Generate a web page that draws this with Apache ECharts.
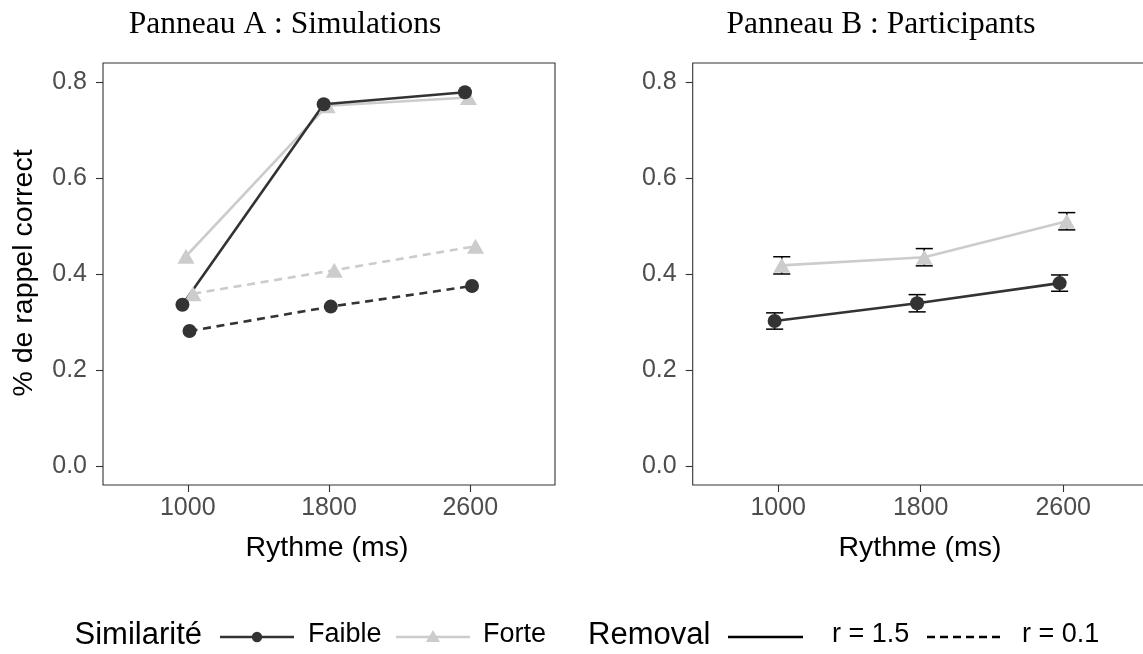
<!DOCTYPE html>
<html>
<head>
<meta charset="utf-8">
<script src="https://cdn.jsdelivr.net/npm/echarts@6/dist/echarts.min.js"></script>
<style>
  html, body { margin: 0; padding: 0; background: #ffffff; }
  #chart { width: 1143px; height: 654px; }
</style>
</head>
<body>
<div id="chart"></div>
<script>
// Rhythm conditions (ms) and y tick values
const rythmes = [1000, 1800, 2600];
const yTicks = [0, 0.2, 0.4, 0.6, 0.8];

// Panel A: simulated recall, by similarity and removal rate
const simFaibleR15 = [0.336, 0.754, 0.779];
const simForteR15  = [0.437, 0.751, 0.768];
const simFaibleR01 = [0.281, 0.332, 0.375];
const simForteR01  = [0.359, 0.408, 0.458];

// Panel B: participants' recall with standard errors
const partFaible   = [0.302, 0.339, 0.381];
const partForte    = [0.418, 0.435, 0.510];
const partFaibleSE = [0.017, 0.018, 0.017];
const partForteSE  = [0.018, 0.018, 0.018];

const DARK = '#333333';
const LIGHT = '#CCCCCC';
const SANS = '"Liberation Sans", Arial, Helvetica, sans-serif';
const SERIF = '"Liberation Serif", "Times New Roman", serif';

// category spacing in ms; discrete-scale padding of 0.6 category on each side
const STEP = 800;
const X_MIN = rythmes[0] - 0.6 * STEP;
const X_MAX = rythmes[rythmes.length - 1] + 0.6 * STEP;

// position_dodge(width = 0.1): offset of group i among n groups
function dodge(i, n) {
  const w = 0.1;
  return (-w / 2 + (w / n) * (i + 0.5)) * STEP;
}
function pairs(values, i, n) {
  return values.map((v, k) => [rythmes[k] + dodge(i, n), v]);
}
function errPairs(values, se, i, n) {
  return values.map((v, k) => [rythmes[k] + dodge(i, n), v - se[k], v + se[k]]);
}

const chart = echarts.init(document.getElementById('chart'), null, { renderer: 'canvas' });

const grids = [
  { left: 103, top: 63, width: 452, height: 422 },
  { left: 692.7, top: 63, width: 456, height: 422 }
].map(g => Object.assign({
  show: true, borderColor: DARK, borderWidth: 1.1,
  backgroundColor: 'transparent', containLabel: false, outerBoundsMode: 'none'
}, g));

function xAxis(gi) {
  return {
    type: 'value', gridIndex: gi, min: X_MIN, max: X_MAX,
    axisLine: { show: false, onZero: false },
    splitLine: { show: false },
    axisTick: { show: true, inside: false, customValues: rythmes, length: 7, lineStyle: { color: DARK, width: 1.1 } },
    axisLabel: {
      customValues: rythmes, margin: 11, fontSize: 25, color: '#4D4D4D', fontFamily: SANS,
      formatter: v => String(Math.round(v))
    }
  };
}
function yAxis(gi) {
  return {
    type: 'value', gridIndex: gi, min: -0.04, max: 0.84,
    axisLine: { show: false, onZero: false },
    splitLine: { show: false },
    axisTick: { show: true, inside: false, customValues: yTicks, length: 7, lineStyle: { color: DARK, width: 1.1 } },
    axisLabel: {
      customValues: yTicks, margin: 16, fontSize: 25, color: '#4D4D4D', fontFamily: SANS,
      formatter: v => v.toFixed(1)
    }
  };
}

function lineSeries(gi, data, color, dashed) {
  return {
    type: 'line', xAxisIndex: gi, yAxisIndex: gi, data, symbol: 'none', silent: true,
    animation: false,
    lineStyle: { color, width: 2.6, type: dashed ? [8, 5.7] : 'solid', cap: 'butt' },
    z: 2
  };
}
function pointSeries(gi, data, color, shape, z) {
  return {
    type: 'scatter', xAxisIndex: gi, yAxisIndex: gi, data, animation: false, silent: true,
    symbol: shape, symbolSize: shape === 'triangle' ? [17, 15] : 14,
    itemStyle: { color, opacity: 1 }, z
  };
}

const capHalf = 0.06 * STEP;
function errorSeries(gi, data) {
  return {
    type: 'custom', xAxisIndex: gi, yAxisIndex: gi, data, animation: false, silent: true, z: 1,
    renderItem(params, api) {
      const x = api.value(0);
      const lo = api.coord([x, api.value(1)]);
      const hi = api.coord([x, api.value(2)]);
      const half = api.coord([x + capHalf, api.value(1)])[0] - lo[0];
      const style = { stroke: '#000000', lineWidth: 1.5, fill: null };
      return {
        type: 'group',
        children: [
          { type: 'line', shape: { x1: lo[0], y1: lo[1], x2: hi[0], y2: hi[1] }, style },
          { type: 'line', shape: { x1: lo[0] - half, y1: lo[1], x2: lo[0] + half, y2: lo[1] }, style },
          { type: 'line', shape: { x1: hi[0] - half, y1: hi[1], x2: hi[0] + half, y2: hi[1] }, style }
        ]
      };
    }
  };
}

const series = [
  // Panel A
  lineSeries(0, pairs(simForteR15, 1, 4), LIGHT, false),
  lineSeries(0, pairs(simForteR01, 3, 4), LIGHT, true),
  lineSeries(0, pairs(simFaibleR15, 0, 4), DARK, false),
  lineSeries(0, pairs(simFaibleR01, 2, 4), DARK, true),
  pointSeries(0, pairs(simForteR15, 1, 4), LIGHT, 'triangle', 3),
  pointSeries(0, pairs(simForteR01, 3, 4), LIGHT, 'triangle', 3),
  pointSeries(0, pairs(simFaibleR15, 0, 4), DARK, 'circle', 4),
  pointSeries(0, pairs(simFaibleR01, 2, 4), DARK, 'circle', 4),
  // Panel B
  errorSeries(1, errPairs(partFaible, partFaibleSE, 0, 2)),
  errorSeries(1, errPairs(partForte, partForteSE, 1, 2)),
  lineSeries(1, pairs(partForte, 1, 2), LIGHT, false),
  lineSeries(1, pairs(partFaible, 0, 2), DARK, false),
  pointSeries(1, pairs(partForte, 1, 2), LIGHT, 'triangle', 3),
  pointSeries(1, pairs(partFaible, 0, 2), DARK, 'circle', 4)
];

// Titles, axis titles and legend drawn as graphic elements
function text(x, y, str, size, opts) {
  return Object.assign({
    type: 'text', x, y, silent: true,
    style: Object.assign({
      text: str, fontSize: size, fontFamily: SANS, fill: '#000000',
      align: 'left', verticalAlign: 'middle'
    }, opts && opts.style)
  }, opts && opts.el);
}
function keyLine(x1, x2, y, color, dashed) {
  return {
    type: 'line', silent: true,
    shape: { x1, y1: y, x2, y2: y },
    style: { stroke: color, lineWidth: 2.6, lineDash: dashed ? [8, 5] : null, lineCap: 'butt' }
  };
}

const LEG_Y = 637;
const graphic = [
  text(285, 25, 'Panneau A : Simulations', 31.5, { style: { fontFamily: SERIF, align: 'center' } }),
  text(881, 25, 'Panneau B : Participants', 31.5, { style: { fontFamily: SERIF, align: 'center' } }),
  text(24, 273, '% de rappel correct', 28.5, { style: { align: 'center' }, el: { rotation: Math.PI / 2 } }),
  text(327, 548, 'Rythme (ms)', 28.5, { style: { align: 'center' } }),
  text(920, 548, 'Rythme (ms)', 28.5, { style: { align: 'center' } }),

  text(202, LEG_Y - 2, 'Similarité', 31, { style: { align: 'right' } }),
  keyLine(220, 294, LEG_Y, DARK, false),
  { type: 'circle', silent: true, shape: { cx: 257, cy: LEG_Y, r: 5.2 }, style: { fill: DARK } },
  text(308, LEG_Y - 2, 'Faible', 27),
  keyLine(396, 470, LEG_Y, LIGHT, false),
  { type: 'polygon', silent: true, shape: { points: [[433, LEG_Y - 7], [440, LEG_Y + 5], [426, LEG_Y + 5]] }, style: { fill: LIGHT } },
  text(483, LEG_Y - 2, 'Forte', 27),

  text(588, LEG_Y - 2, 'Removal', 31),
  keyLine(728, 803, LEG_Y, '#000000', false),
  text(832, LEG_Y - 2, 'r = 1.5', 27),
  keyLine(927, 1000, LEG_Y, '#000000', true),
  text(1022, LEG_Y - 2, 'r = 0.1', 27)
];

chart.setOption({
  animation: false,
  backgroundColor: '#ffffff',
  grid: grids,
  xAxis: [xAxis(0), xAxis(1)],
  yAxis: [yAxis(0), yAxis(1)],
  series,
  graphic
});
</script>
</body>
</html>
